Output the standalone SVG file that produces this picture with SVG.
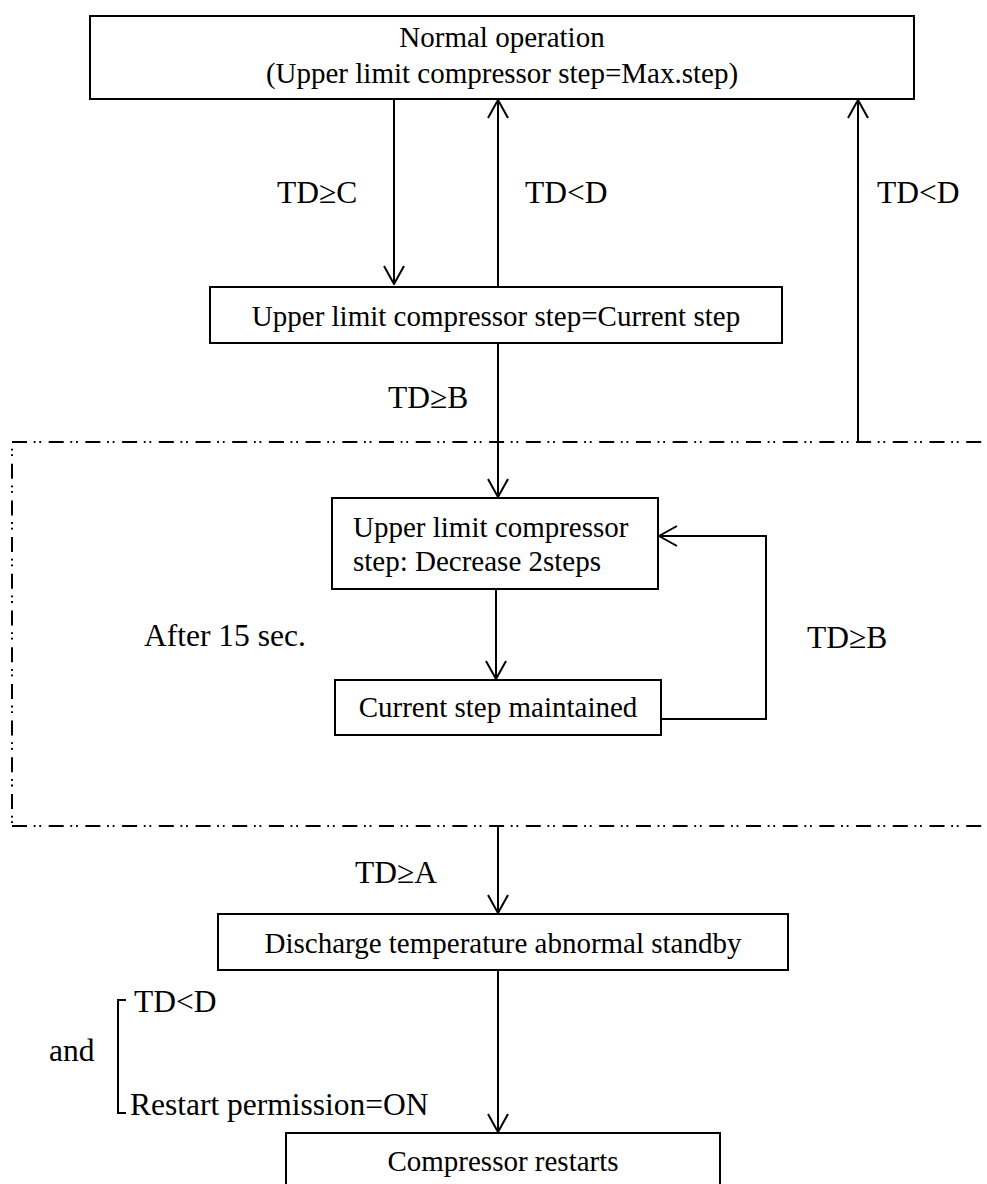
<svg xmlns="http://www.w3.org/2000/svg" width="987" height="1184" viewBox="0 0 987 1184">
<defs>
<style>
.box{fill:#fff;stroke:#000;stroke-width:2}
.t{font-family:"Liberation Serif","Times New Roman",serif;font-size:29px;fill:#000}
.lbl{font-family:"Liberation Serif","Times New Roman",serif;font-size:31.5px;fill:#000}
.c{text-anchor:middle}
.ln{fill:none;stroke:#000;stroke-width:2}
.dd{fill:none;stroke:#000;stroke-width:2;stroke-dasharray:15 6.7 1.8 3.8 1.8 7.6}
</style>
<marker id="ah" viewBox="0 0 20 22" refX="19" refY="11" markerWidth="20" markerHeight="22" markerUnits="userSpaceOnUse" orient="auto">
<path d="M1,1 L19,11 L1,21" fill="none" stroke="#000" stroke-width="2"/>
</marker>
</defs>
<rect width="987" height="1184" fill="#fff"/>

<g id="frame">
<path class="dd" d="M12,442 H983"/>
<path class="dd" d="M12,826 H983"/>
<path class="dd" d="M12,442 V826" stroke-dashoffset="15"/>
</g>

<g id="connectors">
<path class="ln" d="M394,99 V284" marker-end="url(#ah)"/>
<path class="ln" d="M498,287 V100" marker-end="url(#ah)"/>
<path class="ln" d="M858,442 V100" marker-end="url(#ah)"/>
<path class="ln" d="M498,343 V497" marker-end="url(#ah)"/>
<path class="ln" d="M496,589 V679" marker-end="url(#ah)"/>
<path class="ln" d="M661,719 H766 V536 H659" marker-end="url(#ah)"/>
<path class="ln" d="M498,826 V913" marker-end="url(#ah)"/>
<path class="ln" d="M498,970 V1132" marker-end="url(#ah)"/>
<path class="ln" d="M126,1000 H118 V1113 H126" stroke-width="2.2"/>
</g>

<g id="labels">
<text class="lbl" x="277" y="203">TD≥C</text>
<text class="lbl" x="525" y="203">TD&lt;D</text>
<text class="lbl" x="877" y="203">TD&lt;D</text>
<text class="lbl" x="388" y="408">TD≥B</text>
<text class="lbl" x="144" y="646">After 15 sec.</text>
<text class="lbl" x="807" y="648">TD≥B</text>
<text class="lbl" x="355" y="883">TD≥A</text>
<text class="lbl" x="49" y="1061">and</text>
<text class="lbl" x="134" y="1012">TD&lt;D</text>
<text class="lbl" x="130" y="1115">Restart permission=ON</text>
</g>

<g id="normal">
<rect class="box" x="90" y="16" width="824" height="83"/>
<text class="t c" x="502" y="47">Normal operation</text>
<text class="t c" x="502" y="83">(Upper limit compressor step=Max.step)</text>
</g>

<g id="current">
<rect class="box" x="210" y="287" width="572" height="56"/>
<text class="t c" x="496" y="326">Upper limit compressor step=Current step</text>
</g>

<g id="decrease">
<rect class="box" x="332" y="498" width="326" height="91"/>
<text class="t" x="353" y="537">Upper limit compressor</text>
<text class="t" x="353" y="571">step: Decrease 2steps</text>
</g>

<g id="maintained">
<rect class="box" x="335" y="680" width="326" height="55"/>
<text class="t c" x="498" y="717">Current step maintained</text>
</g>

<g id="standby">
<rect class="box" x="218" y="914" width="570" height="56"/>
<text class="t c" x="503" y="953">Discharge temperature abnormal standby</text>
</g>

<g id="restarts">
<rect class="box" x="286" y="1133" width="434" height="70"/>
<text class="t c" x="503" y="1171">Compressor restarts</text>
</g>
</svg>
